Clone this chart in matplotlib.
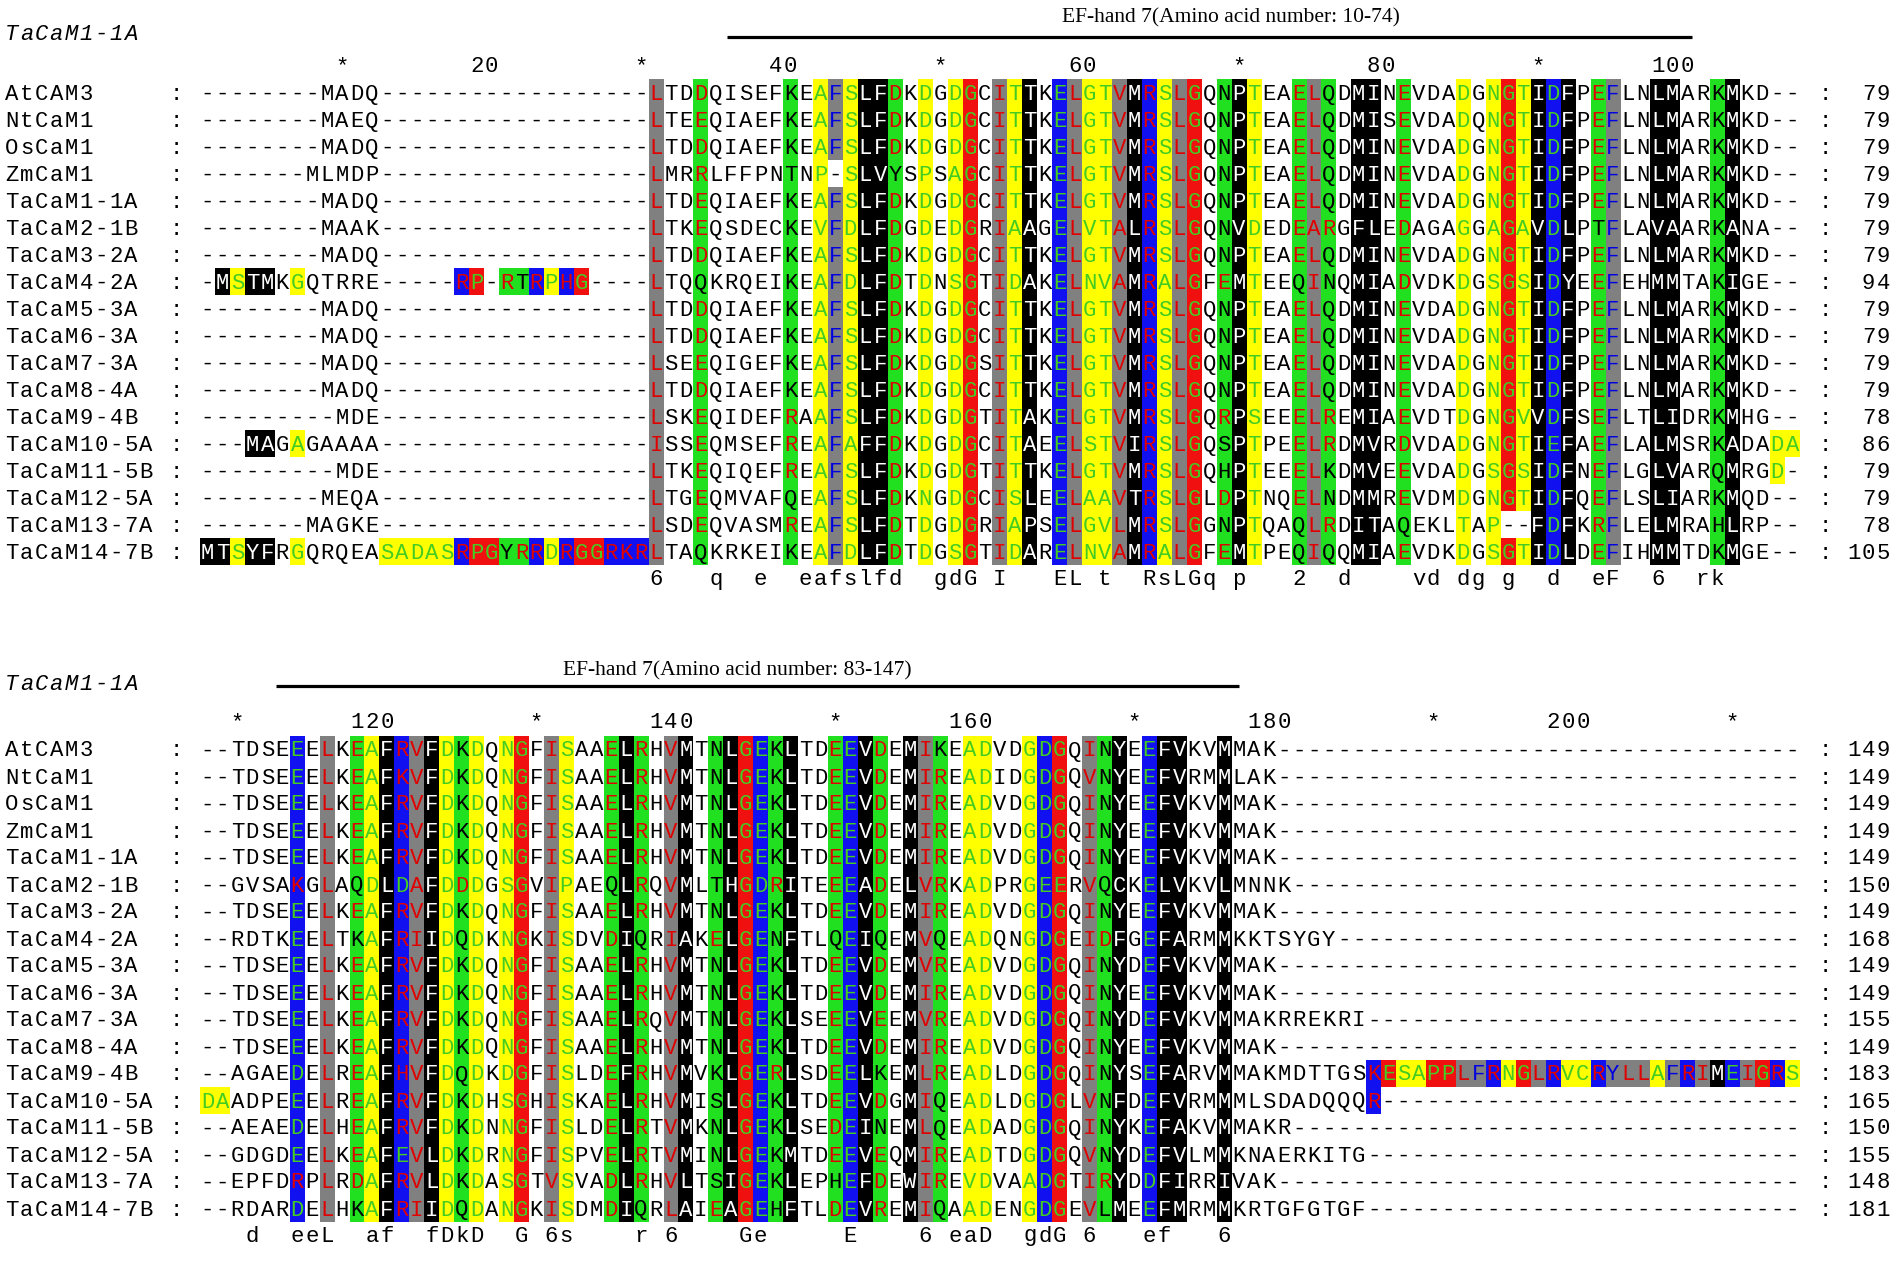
import numpy as np
import matplotlib
matplotlib.use("Agg")
import matplotlib.pyplot as plt
from matplotlib.colors import to_rgb

names = ["AtCAM3", "NtCaM1", "OsCaM1", "ZmCaM1", "TaCaM1-1A", "TaCaM2-1B",
         "TaCaM3-2A", "TaCaM4-2A", "TaCaM5-3A", "TaCaM6-3A", "TaCaM7-3A",
         "TaCaM8-4A", "TaCaM9-4B", "TaCaM10-5A", "TaCaM11-5B", "TaCaM12-5A",
         "TaCaM13-7A", "TaCaM14-7B"]

# block 1, columns 1-30
top_left = ["--------MADQ", "--------MAEQ", "--------MADQ", "-------MLMDP",
            "--------MADQ", "--------MAAK", "--------MADQ",
            "-MSTMKGQTRRE-----RP-RTRPHG", "--------MADQ", "--------MADQ",
            "--------MADQ", "--------MADQ", "---------MDE", "---MAGAGAAAA",
            "---------MDE", "--------MEQA", "-------MAGKE",
            "MTSYFRGQRQEASADASRPGYRRDRGGRKR"]

# block 1, columns 31-107
cam = "LTDDQIAEFKEAFSLFDKDGDGCITTKELGTVMRSLGQNPTEAELQDMINEVDADGNGTIDFPEFLNLMARKMKD"
top_right = [
    "LTDDQISEFKEAFSLFDKDGDGCITTKELGTVMRSLGQNPTEAELQDMINEVDADGNGTIDFPEFLNLMARKMKD",
    "LTEEQIAEFKEAFSLFDKDGDGCITTKELGTVMRSLGQNPTEAELQDMISEVDADQNGTIDFPEFLNLMARKMKD",
    cam,
    "LMRRLFFPNTNP-SLVYSPSAGCITTKELGTVMRSLGQNPTEAELQDMINEVDADGNGTIDFPEFLNLMARKMKD",
    "LTDEQIAEFKEAFSLFDKDGDGCITTKELGTVMRSLGQNPTEAELQDMINEVDADGNGTIDFPEFLNLMARKMKD",
    "LTKEQSDECKEVFDLFDGDEDGRIAAGELVTALRSLGQNVDEDEARGFLEDAGAGGAGAVDLPTFLAVAARKANA",
    cam,
    "LTQQKRQEIKEAFDLFDTDNSGTIDAKELNVAMRALGFEMTEEQINQMIADVDKDGSGSIDYEEFEHMMTAKIGE",
    cam,
    cam,
    "LSEEQIGEFKEAFSLFDKDGDGSITTKELGTVMRSLGQNPTEAELQDMINEVDADGNGTIDFPEFLNLMARKMKD",
    cam,
    "LSKEQIDEFRAAFSLFDKDGDGTITAKELGTVMRSLGQRPSEEELREMIAEVDTDGNGVVDFSEFLTLIDRKMHG",
    "ISSEQMSEFREAFAFFDKDGDGCITAEELSTVIRSLGQSPTPEELRDMVRDVDADGNGTIEFAEFLALMSRKADADA",
    "LTKEQIQEFREAFSLFDKDGDGTITTKELGTVMRSLGQHPTEEELKDMVEEVDADGSGSIDFNEFLGLVARQMRGD",
    "LTGEQMVAFQEAFSLFDKNGDGCISLEELAAVTRSLGLDPTNQELNDMMREVDMDGNGTIDFQEFLSLIARKMQD",
    "LSDEQVASMREAFSLFDTDGDGRIAPSELGVLMRSLGGNPTQAQLRDITAQEKLTAP--FDFKRFLELMRAHLRP",
    "LTAQKRKEIKEAFDLFDTDGSGTIDARELNVAMRALGFEMTPEQIQQMIAEVDKDGSGTIDLDEFIHMMTDKMGE"]

# block 2, columns 1-107 (alignment positions 108-214)
cam2 = "--TDSEEELKEAFRVFDKDQNGFISAAELRHVMTNLGEKLTDEEVDEMIREADVDGDGQINYEEFVKVMMAK"
bottom_seqs = [
    "--TDSEEELKEAFRVFDKDQNGFISAAELRHVMTNLGEKLTDEEVDEMIKEADVDGDGQINYEEFVKVMMAK",
    "--TDSEEELKEAFKVFDKDQNGFISAAELRHVMTNLGEKLTDEEVDEMIREADIDGDGQVNYEEFVRMMLAK",
    cam2,
    cam2,
    cam2,
    "--GVSAKGLAQDLDAFDDDGSGVIPAEQLRQVMLTHGDRITEEEADELVRKADPRGEERVQCKELVKVLMNNK",
    cam2,
    "--RDTKEELTKAFRIIDQDKNGKISDVDIQRIAKELGENFTLQEIQEMVQEADQNGDGEIDFGEFARMMKKTSYGY",
    "--TDSEEELKEAFRVFDKDQNGFISAAELRHVMTNLGEKLTDEEVDEMVREADVDGDGQINYDEFVKVMMAK",
    cam2,
    "--TDSEEELKEAFRVFDKDQNGFISAAELRQVMTNLGEKLSEEEVEEMVREADVDGDGQINYDEFVKVMMAKRREKRI",
    cam2,
    "--AGAEDELREAFHVFDQDKDGFISLDEFRHVMVKLGERLSDEELKEMLREADLDGDGQINYSEFARVMMAKMDTTGSKESAPPLFRNGLRVCRYLLAFRIMEIGRS",
    "DAADPEEELREAFRVFDKDHSGHISKAELRHVMISLGEKLTDEEVDGMIQEADLDGDGLVNFDEFVRMMMLSDADQQQR",
    "--AEAEDELHEAFRVFDKDNNGFISLDELRTVMKNLGEKLSEDEINEMLQEADADGDGQINYKEFAKVMMAKR",
    "--GDGDEELKEAFEVLDKDRNGFISPVELRTVMINLGEKMTDEEVEQMIREADTDGDGQVNYDEFVLMMKNAERKITG",
    "--EPFDRPLRDAFRVLDKDASGTVSVADLRHVLTSIGEKLEPHEFDEWIREVDVAADGTIRYDDFIRRIVAK",
    "--RDARDELHKAFRIIDQDANGKISDMDIQRLAIEAGEHFTLDEVREMIQAADENGDGEVLMEEFMRMMKRTGFGTGF"]

top_ends = [79, 79, 79, 79, 79, 79, 79, 94, 79, 79, 79, 79, 78, 86, 79, 79, 78, 105]
bottom_ends = [149, 149, 149, 149, 149, 150, 149, 168, 149, 149, 155, 149, 183,
               165, 150, 155, 148, 181]

# column shading: . none, k black, a grey, g green, y yellow, r red, b blue
top_columns = ("." * 30 + "a..g.....g" + ".yaykkg.y." + "yr.ayk.bay" + "yakbyar.gk"
               + "y..gag.kk." + "g...y.yryk" + "bk.ga..kk." + ".gk....")
bottom_columns = ("......b.a." + "gykbakygy." + "yr.ay..gkg" + ".ak.gkrbgk"
                  + "..gbkg.kag" + ".yy..ybr.a" + "gk.bkk..k." + "." * 37)

# cells shaded on their own (first column, codes)
top_cells = {"TaCaM4-2A": [(1, ".kykk.y..........br.ggbybr")],
             "TaCaM10-5A": [(1, "...kk.y"), (106, "yy")],
             "TaCaM11-5B": [(106, "y")],
             "TaCaM14-7B": [(1, "kkykk.y.....yyyyybrrggbybrrbbb")]}
bottom_cells = {"TaCaM9-4B": [(79, "bryyrraabyrabyybaaayabakbarby")],
                "TaCaM10-5A": [(1, "yy"), (79, "b")]}

top_consensus = [(31, "6"), (35, "q"), (38, "e"), (41, "eafslfd"), (50, "gdG"),
                 (54, "I"), (58, "EL"), (61, "t"), (64, "RsLGq"), (70, "p"),
                 (74, "2"), (77, "d"), (82, "vd"), (85, "dg"), (88, "g"),
                 (91, "d"), (94, "eF"), (98, "6"), (101, "rk")]
bottom_consensus = [(4, "d"), (7, "eeL"), (12, "af"), (16, "fDkD"), (22, "G"),
                    (24, "6s"), (30, "r"), (32, "6"), (37, "Ge"), (44, "E"),
                    (49, "6"), (51, "eaD"), (56, "gdG"), (60, "6"), (64, "ef"),
                    (69, "6")]

header = "TaCaM1-1A"
top_title = "EF-hand 7(Amino acid number: 10-74)"
bottom_title = "EF-hand 7(Amino acid number: 83-147)"

# ---------------- layout (pixels) ----------------
ncol = 107
x_first = 207.5      # centre of column 1
pitch = 14.95
row_h = 27.0
mono = "Liberation Mono"
fs = 16

shade = {".": "#ffffff", "k": "#000000", "a": "#808080", "g": "#20e020",
         "y": "#ffff00", "r": "#f01010", "b": "#1010f0"}
txt_red, txt_green, txt_blue = "#e00000", "#44cc22", "#0000e0"


def text_colour(ch, code):
    if code == "k":
        return "white"
    if code == "a":
        return txt_blue if ch in "FYW" else txt_red
    if code in "yr":
        return txt_green
    if code == "b":
        return txt_red if ch in "RKH" else txt_green
    if code == "g":
        return txt_red if ch in "DER" else "black"
    return "black"


fig = plt.figure(figsize=(19.02, 12.62), dpi=100)
ax = fig.add_axes([0, 0, 1, 1])
ax.set_xlim(0, 1902)
ax.set_ylim(1262, 0)
ax.axis("off")


def put(x0, y, s, **kw):
    for i, ch in enumerate(s):
        if ch != " ":
            ax.text(x0 + i * pitch, y, ch, ha="center", va="baseline",
                    fontsize=fs, family=mono, **kw)


def colx(c):
    return x_first + (c - 1) * pitch


blocks = [
    dict(seqs=[(l.ljust(30, "-") + r).ljust(ncol, "-") for l, r in zip(top_left, top_right)],
         cols=top_columns, cells=top_cells, ends=top_ends, cons=top_consensus,
         row0=92.7, ruler=72, header=40, offset=0,
         title=top_title, title_x=1231, title_y=22, line=(727, 1692, 37)),
    dict(seqs=[s.ljust(ncol, "-") for s in bottom_seqs],
         cols=bottom_columns, cells=bottom_cells, ends=bottom_ends, cons=bottom_consensus,
         row0=749.5, ruler=728, header=690, offset=107,
         title=bottom_title, title_x=737, title_y=675, line=(276, 1239, 686)),
]

for b in blocks:
    nrow = len(names)
    codes = []
    for r, name in enumerate(names):
        row = list(b["cols"])
        for start, cs in b["cells"].get(name, []):
            for k, c in enumerate(cs):
                if c != ".":
                    row[start - 1 + k] = c
        row = ["." if b["seqs"][r][c] == "-" else row[c] for c in range(ncol)]
        codes.append(row)

    img = np.array([[to_rgb(shade[c]) for c in row] for row in codes])
    ax.imshow(img, interpolation="nearest", aspect="auto",
              extent=(x_first - pitch / 2, x_first + (ncol - 0.5) * pitch,
                      b["row0"] + (nrow - 0.5) * row_h, b["row0"] - row_h / 2))

    for r, name in enumerate(names):
        yb = b["row0"] + r * row_h + 7
        put(11.5, yb, name, color="black")
        put(176, yb, ":", color="black")
        put(1825, yb, ":", color="black")
        num = str(b["ends"][r])
        put(1883.5 - (len(num) - 1) * pitch, yb, num, color="black")
        for c in range(ncol):
            ch = b["seqs"][r][c]
            put(colx(c + 1), yb, ch, color=text_colour(ch, codes[r][c]))

    # ruler
    for c in range(1, ncol + 1):
        pos = b["offset"] + c
        if pos % 10:
            continue
        if pos % 20 == 10:
            put(colx(c), b["ruler"], "*", color="black")
        else:
            s = str(pos)
            put(colx(c) - (len(s) - 1) * pitch, b["ruler"], s, color="black")

    # consensus line
    ycons = b["row0"] + nrow * row_h + 6
    for c, s in b["cons"]:
        put(colx(c), ycons, s, color="black")

    put(11.5, b["header"], header, color="black", style="italic")
    ax.text(b["title_x"], b["title_y"], b["title"], ha="center", va="baseline",
            fontsize=15.5, family="Liberation Serif", color="black")
    x0, x1, yl = b["line"]
    ax.plot([x0, x1], [yl, yl], color="black", lw=2.3, solid_capstyle="butt")

ax.set_xlim(0, 1902)
ax.set_ylim(1262, 0)
fig.savefig("out.png", dpi=100, facecolor="white")
